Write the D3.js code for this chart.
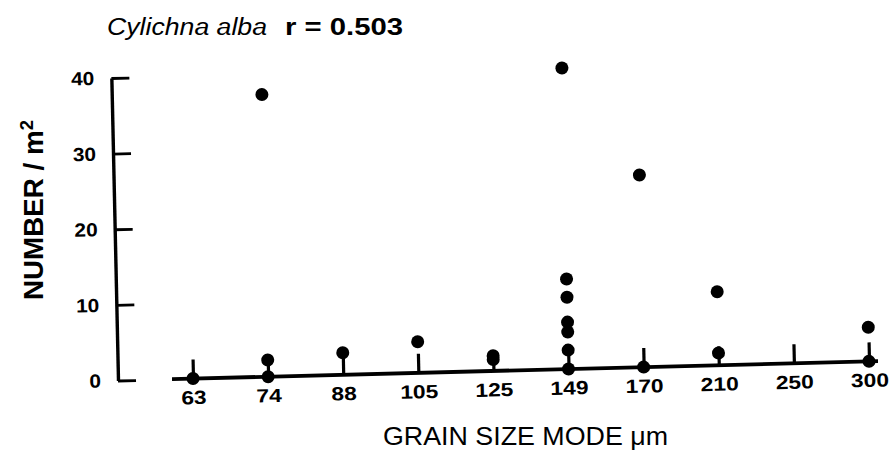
<!DOCTYPE html>
<html>
<head>
<meta charset="utf-8">
<script src="https://cdn.jsdelivr.net/npm/d3@7"></script>
<style>
  html, body { margin: 0; padding: 0; background: #fff; }
  svg { display: block; }
  text { font-family: "Liberation Sans", Arial, Helvetica, sans-serif; fill: #000; }
</style>
</head>
<body>
<svg id="chart" width="893" height="456"></svg>
<script>
// Grain-size classes (modal grain size, µm) along the x axis
const grainSizes = ["63", "74", "88", "105", "125", "149", "170", "210", "250", "300"];

// Station observations: grain-size class and density (number per m²)
const obsGrain  = ["63", "74", "74", "74", "88", "105", "125", "125",
                   "149", "149", "149", "149", "149", "149", "149",
                   "170", "170", "210", "210", "300", "300"];
const obsNumber = [0, 37.3, 2.2, 0, 2.9, 4.1, 2.0, 1.5,
                   39.8, 11.9, 9.5, 6.2, 4.9, 2.5, 0,
                   25.4, 0, 9.7, 1.6, 4.5, 0];

const yTicks = [0, 10, 20, 30, 40];

const speciesName = "Cylichna alba";
const corrLabel = "r = 0.503";
const xTitle = "GRAIN SIZE MODE \u03bcm";
const yTitle = "NUMBER / m";
const yTitleSup = "2";

const svg = d3.select("#chart");

const x = d3.scalePoint().domain(grainSizes).range([75, 751]);
const y = d3.scaleLinear().domain([0, 40]).range([0, -302.5]);

// plotting frame, slightly tilted like the printed plate
const plot = svg.append("g")
  .attr("transform", "matrix(1,-0.0255,0.022,1,118,380.5)");

// y axis: ticks point inward
const yAxis = plot.append("g")
  .call(d3.axisLeft(y).tickValues(yTicks).tickSizeInner(-18).tickSizeOuter(0).tickPadding(17))
  .attr("font-family", null).attr("font-size", null);
yAxis.select(".domain").attr("stroke", "#000").attr("stroke-width", 3.4);
yAxis.selectAll(".tick line").attr("stroke", "#000").attr("stroke-width", 2.8);
yAxis.selectAll(".tick text")
  .attr("fill", "#000")
  .attr("font-size", 19)
  .attr("font-weight", "bold")
  .attr("transform", "scale(1.1,1)")
  .attr("x", -17 / 1.1);

// x axis: baseline extends a little beyond the outer classes, ticks point up
const [x0, x1] = x.range();
plot.append("line")
  .attr("x1", x0 - 21).attr("x2", x1 + 9)
  .attr("y1", y(0)).attr("y2", y(0))
  .attr("stroke", "#000").attr("stroke-width", 3.8);

const xAxis = plot.append("g")
  .call(d3.axisBottom(x).tickSizeInner(-19).tickSizeOuter(0).tickPadding(12))
  .attr("font-family", null).attr("font-size", null);
xAxis.select(".domain").remove();
xAxis.selectAll(".tick line").attr("stroke", "#000").attr("stroke-width", 3.2);
xAxis.selectAll(".tick text")
  .attr("fill", "#000")
  .attr("font-size", 19)
  .attr("font-weight", "bold")
  .attr("transform", "scale(1.2,1)");

// observations
const obs = obsNumber.map((n, i) => ({ grain: obsGrain[i], n }));
plot.append("g")
  .selectAll("circle")
  .data(obs)
  .join("circle")
  .attr("cx", d => x(d.grain))
  .attr("cy", d => y(d.n))
  .attr("r", 6.5)
  .attr("fill", "#000");

// title
svg.append("text")
  .attr("x", 107).attr("y", 35)
  .attr("font-size", 23)
  .attr("font-style", "italic")
  .attr("textLength", 160).attr("lengthAdjust", "spacingAndGlyphs")
  .text(speciesName);
svg.append("text")
  .attr("x", 285).attr("y", 35)
  .attr("font-size", 24)
  .attr("font-weight", "bold")
  .attr("textLength", 118).attr("lengthAdjust", "spacingAndGlyphs")
  .text(corrLabel);

// axis titles
svg.append("text")
  .attr("x", 383).attr("y", 445)
  .attr("font-size", 25)
  .attr("textLength", 285).attr("lengthAdjust", "spacingAndGlyphs")
  .text(xTitle);

const yt = svg.append("text")
  .attr("transform", "translate(43,210) rotate(-90)")
  .attr("text-anchor", "middle")
  .attr("font-size", 27)
  .attr("font-weight", "bold")
  .attr("textLength", 180).attr("lengthAdjust", "spacingAndGlyphs");
yt.append("tspan").text(yTitle);
yt.append("tspan").attr("dy", -10).attr("font-size", 18).text(yTitleSup);
</script>
</body>
</html>
